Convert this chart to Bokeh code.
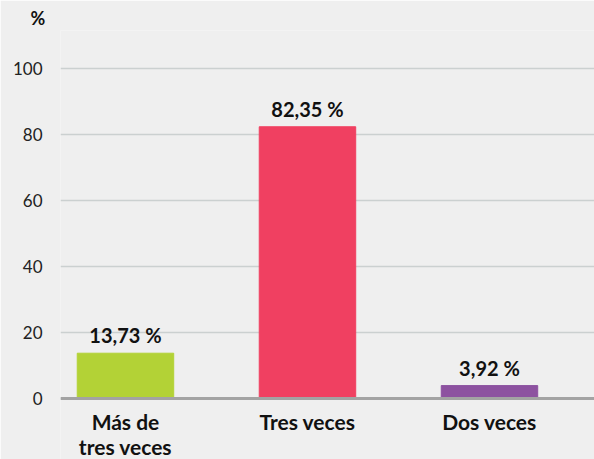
from bokeh.plotting import figure
from bokeh.models import ColumnDataSource, Range1d, FixedTicker, Span
from bokeh.core.properties import value
from bokeh.embed import file_html
from bokeh.resources import INLINE

categories = ["Más de\ntres veces", "Tres veces", "Dos veces"]
values = [13.73, 82.35, 3.92]
value_labels = ["13,73 %", "82,35 %", "3,92 %"]
colors = ["#b3d236", "#f04061", "#8d52a0"]
y_ticks = [0, 20, 40, 60, 80, 100]
baseline = 0

positions = list(range(len(categories)))
src = ColumnDataSource(dict(x=positions, top=values, lab=value_labels, color=colors,
                            cat=categories, base=[baseline] * len(categories)))

BG = "#efefef"
p = figure(width=594, height=459, output_backend="svg", toolbar_location=None,
           x_range=Range1d(-0.357, 2.577), y_range=Range1d(-18.48, 111.52),
           x_axis_location=None,
           min_border_left=60, min_border_right=0, min_border_top=30, min_border_bottom=0,
           title="%")
p.background_fill_color = BG
p.border_fill_color = BG
p.outline_line_color = None

p.title.align = "left"
p.title.offset = -30
p.title.standoff = 3
p.title.text_font = "Lato"
p.title.text_font_style = "bold"
p.title.text_font_size = "18px"
p.title.text_color = "#111111"

p.vbar(x="x", top="top", bottom="base", width=0.53, color="color", source=src)
p.text(x="x", y="top", text="lab", source=src, text_align="center", text_baseline="bottom",
       y_offset=-6, text_font=value("Lato"), text_font_style="bold", text_font_size="20px",
       text_color="#111111")
p.text(x="x", y="base", text="cat", source=src, text_align="center", text_baseline="top",
       y_offset=10, text_font=value("Lato"), text_font_style="bold", text_font_size="21px",
       text_color="#111111", text_line_height=1.03)

p.add_layout(Span(location=baseline, dimension="width", line_color="#a3a3a3", line_width=3))

p.xgrid.visible = False
p.ygrid.grid_line_color = "#cbd0d0"
p.ygrid.grid_line_width = 1.5
p.yaxis.ticker = FixedTicker(ticks=y_ticks)
p.yaxis.axis_line_color = None
p.yaxis.major_tick_line_color = None
p.yaxis.minor_tick_line_color = None
p.yaxis.major_tick_out = 0
p.yaxis.major_label_standoff = 18
p.yaxis.major_label_text_font = "Lato"
p.yaxis.major_label_text_font_size = "17px"
p.yaxis.major_label_text_color = "#222222"

open("out.html", "w").write(file_html(p, INLINE))
